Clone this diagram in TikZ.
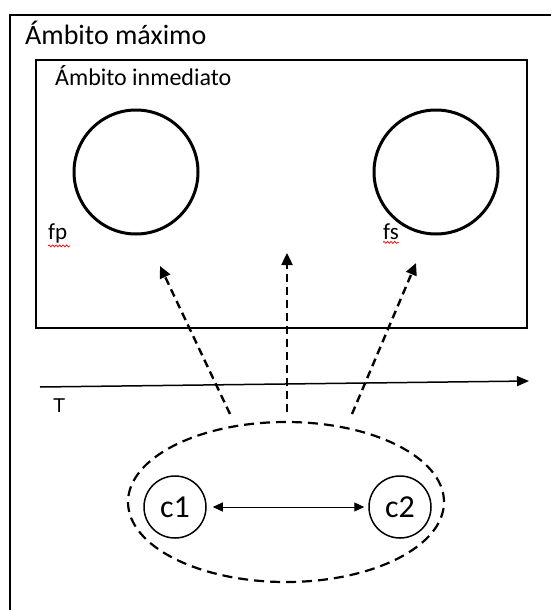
\documentclass[tikz,border=0pt]{standalone}
\usepackage{fontspec}
\setmainfont{Carlito}
\newfontfamily\axisfont{Liberation Sans}
\usetikzlibrary{arrows.meta,shapes.geometric,decorations.pathmorphing}
\begin{document}
\begin{tikzpicture}[x=1pt,y=-1pt,
  frame/.style={line width=2pt},
  bigring/.style={circle,draw,line width=3pt,minimum size=124pt,inner sep=0pt},
  smallring/.style={circle,draw,line width=1.5pt,minimum size=62pt,inner sep=0pt,font=\fontsize{32}{36}\selectfont},
  influence/.style={line width=2.4pt,dash pattern=on 8pt off 5pt,-{Triangle[length=12pt,width=11pt]}},
  spell/.style={red,line width=0.7pt,decorate,decoration={snake,amplitude=1pt,segment length=3.5pt}},
  lbl/.style={inner sep=0pt,anchor=base west}
]
\useasboundingbox (0,0) rectangle (551,610);
\fill[white] (0,0) rectangle (551,610);
% outer frame (right and bottom edges outside the picture)
\draw[frame] (560,15) -- (10,15) -- (10,620);
\node[lbl,font=\fontsize{28}{32}\selectfont] (maxl) at (25,45) {Ámbito máximo};
% inner frame
\node[draw,line width=2.5pt,minimum width=491pt,minimum height=268pt,inner sep=0pt] (inner) at (281.5,194) {};
\node[lbl,font=\fontsize{24}{28}\selectfont] (inml) at (55,85) {Ámbito inmediato};
% circles
\node[bigring] (cp) at (136,172) {};
\node[bigring] (cs) at (436,172) {};
\node[lbl,font=\fontsize{23}{26}\selectfont] (fp) at (48,239) {fp};
\node[lbl,font=\fontsize{23}{26}\selectfont] (fs) at (383,239) {fs};
\draw[spell] (fp.south west) ++(0,3) -- ++(22,0);
\draw[spell] (fs.south west) ++(0,3) -- ++(16,0);
% time axis
\coordinate (t0) at (40,387);
\coordinate (t1) at (529,381);
\draw[line width=1.5pt,-{Triangle[length=12pt,width=10pt]}] (t0) -- (t1);
\node[lbl,font=\axisfont\fontsize{20}{24}\selectfont] (T) at (53,412) {T};
% group ellipse
\node[ellipse,draw,line width=2.2pt,dash pattern=on 10pt off 6pt,minimum width=316pt,minimum height=160pt,inner sep=0pt] (grp) at (286,502) {};
\node[smallring] (c1) at (175,507) {c1};
\node[smallring] (c2) at (400,507) {c2};
\draw[line width=1pt,{Triangle[length=10pt,width=9pt]}-{Triangle[length=10pt,width=9pt]},shorten <=6pt,shorten >=4pt] (c1) -- (c2);
% influence arrows
\coordinate (a1s) at (230,414);
\coordinate (a2s) at (287,412);
\coordinate (a3s) at (352,414);
\coordinate (a1e) at (160,266);
\coordinate (a2e) at (287,253);
\coordinate (a3e) at (416,263);
\draw[influence] (a1s) -- (a1e);
\draw[influence] (a2s) -- (a2e);
\draw[influence] (a3s) -- (a3e);
\end{tikzpicture}
\end{document}
